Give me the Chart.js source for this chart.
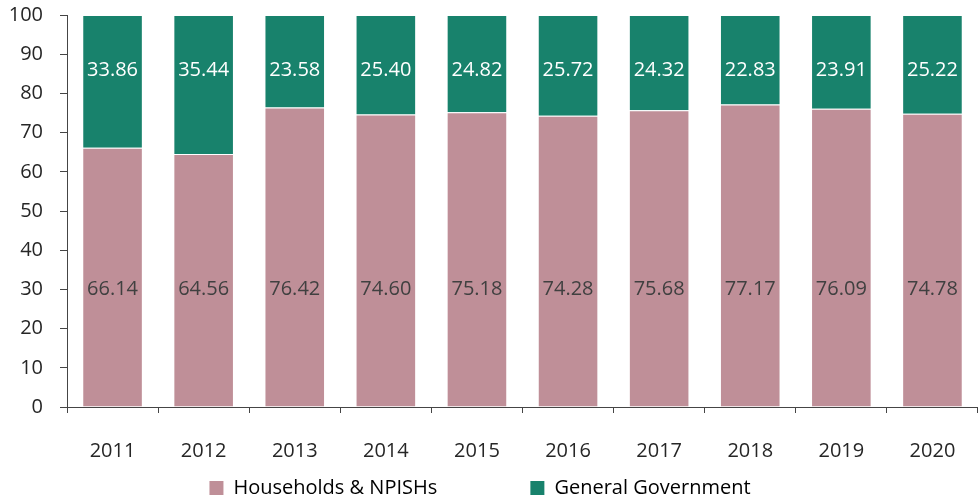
<!DOCTYPE html>
<html>
<head>
<meta charset="utf-8">
<script src="https://cdn.jsdelivr.net/npm/chart.js@4/dist/chart.umd.min.js"></script>
<style>
  html, body { margin: 0; padding: 0; background: #fff; overflow: hidden; }
  #wrap { width: 978px; height: 500px; }
</style>
</head>
<body>
<div id="wrap"><canvas id="chart" width="978" height="500"></canvas></div>
<script>
const years = ['2011', '2012', '2013', '2014', '2015', '2016', '2017', '2018', '2019', '2020'];
const households = [66.14, 64.56, 76.42, 74.60, 75.18, 74.28, 75.68, 77.17, 76.09, 74.78];
const government = [33.86, 35.44, 23.58, 25.40, 24.82, 25.72, 24.32, 22.83, 23.91, 25.22];
const seriesNames = ['Households & NPISHs', 'General Government'];
const yTicks = [0, 10, 20, 30, 40, 50, 60, 70, 80, 90, 100];

const pink = '#BF8F98';
const green = '#18826C';
const edge = 'rgba(255,255,255,0.45)';
const textCol = '#262626';
const axisCol = '#454545';
const fontFam = '"Open Sans", Lato, sans-serif';

// values are printed at a fixed height in each segment, like the original
const labelAt = [30, 86];
const labelCol = ['#404040', '#ffffff'];

const valueLabels = {
  id: 'valueLabels',
  afterDatasetsDraw(chart) {
    const ctx = chart.ctx;
    const y = chart.scales.y;
    ctx.save();
    ctx.font = '20px ' + fontFam;
    ctx.textAlign = 'center';
    ctx.textBaseline = 'middle';
    chart.data.datasets.forEach((ds, i) => {
      chart.getDatasetMeta(i).data.forEach((bar, j) => {
        ctx.fillStyle = labelCol[i];
        ctx.fillText(ds.data[j].toFixed(2), bar.x, y.getPixelForValue(labelAt[i]));
      });
    });
    ctx.restore();
  }
};

// nudge the legend a bit left, the original is not centred on the canvas
const legendShift = {
  id: 'legendShift',
  afterLayout(chart) {
    chart.legend.left -= 13;
    chart.legend.right -= 13;
  }
};

new Chart(document.getElementById('chart'), {
  type: 'bar',
  data: {
    labels: years,
    datasets: [
      { label: seriesNames[0], data: households, backgroundColor: pink, borderColor: edge, borderWidth: 1 },
      { label: seriesNames[1], data: government, backgroundColor: green, borderColor: edge, borderWidth: 1 }
    ]
  },
  options: {
    responsive: false,
    animation: false,
    barPercentage: 0.665,
    categoryPercentage: 1,
    layout: { padding: { top: 15, left: 0, right: -8, bottom: -8 } },
    plugins: {
      tooltip: { enabled: false },
      legend: {
        position: 'bottom',
        labels: {
          color: textCol,
          font: { family: fontFam, size: 20 },
          boxWidth: 14,
          boxHeight: 14,
          padding: 10,
          generateLabels(chart) {
            return chart.data.datasets.map((ds, i) => ({
              text: i === 0 ? ds.label + '                ' : ds.label,
              fillStyle: ds.backgroundColor,
              strokeStyle: ds.backgroundColor,
              lineWidth: 0,
              datasetIndex: i
            }));
          }
        }
      }
    },
    scales: {
      x: {
        stacked: true,
        grid: { display: true, drawOnChartArea: false, drawTicks: true, tickLength: 6, color: axisCol },
        border: { display: true, color: axisCol, width: 1 },
        ticks: { color: textCol, font: { family: fontFam, size: 20 }, padding: 26, maxRotation: 0 },
        afterFit(s) { s.height = 61; s.paddingLeft = 0; s.paddingRight = 0; }
      },
      y: {
        stacked: true,
        min: 0,
        max: 100,
        afterBuildTicks(s) { s.ticks = yTicks.map(v => ({ value: v })); },
        grid: { display: true, drawOnChartArea: false, drawTicks: true, tickLength: 7, color: axisCol },
        border: { display: true, color: axisCol, width: 1 },
        ticks: { color: textCol, font: { family: fontFam, size: 20 }, padding: 17 },
        afterFit(s) { s.width = 67; s.paddingTop = 0; s.paddingBottom = 0; }
      }
    }
  },
  plugins: [valueLabels, legendShift]
});
</script>
</body>
</html>
